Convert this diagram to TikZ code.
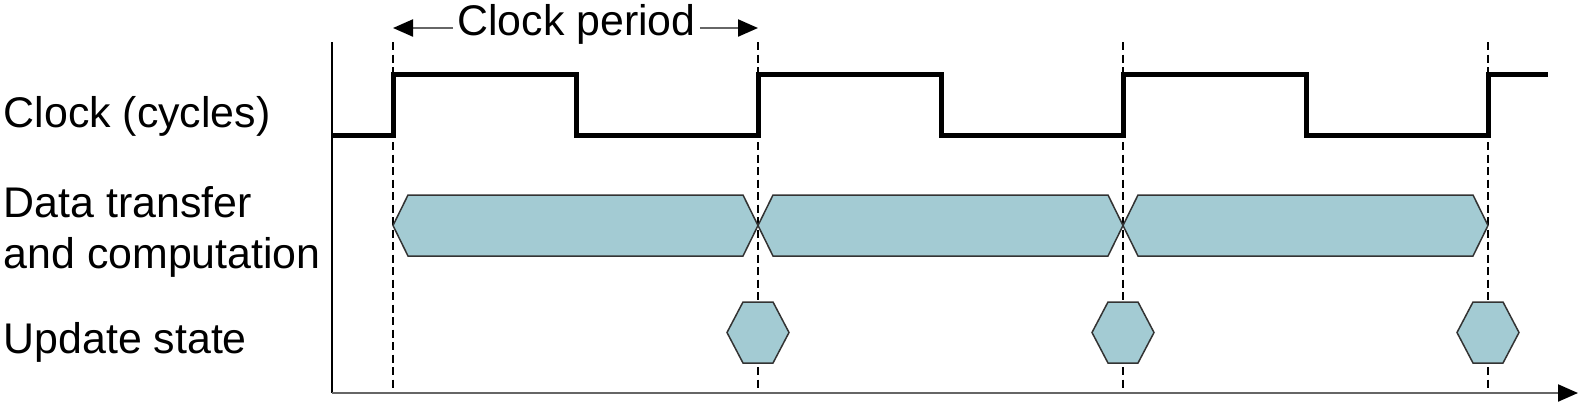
\documentclass[tikz,border=0pt]{standalone}
\usepackage{fontspec}
\setmainfont{Liberation Sans}
\usetikzlibrary{arrows.meta}
\definecolor{stateblue}{RGB}{163,203,211}

\tikzset{
	label/.style={inner sep=0pt, anchor=base west, font=\fontsize{12.2pt}{14pt}\selectfont},
	clockline/.style={line width=0.5mm, line join=miter},
	edgeline/.style={line width=0.18mm, dash pattern=on 0.8mm off 0.45mm},
	hexbox/.style={fill=stateblue, draw=black!80, line width=0.15mm, line join=miter},
	gauge/.style={line width=0.22mm, draw=black!60, -{Triangle[length=2mm, width=1.7mm, color=black]}}
}

\begin{document}
\begin{tikzpicture}[x=0.1mm, y=-0.1mm]
	\useasboundingbox (0, 0) rectangle (1580, 406);

	\node[label] (clk)  at (3, 127) {Clock (cycles)};
	\node[label] (data) at (3, 217) {Data transfer};
	\node[label] (comp) at (3, 268) {and computation};
	\node[label] (upd)  at (3, 353) {Update state};

	\coordinate (origin) at (332, 393);
	\coordinate (top)    at (332, 42);
	\coordinate (tend)   at (1578, 393);

	\foreach \x [count=\i] in {393, 758, 1123, 1488} {
		\coordinate (e\i) at (\x, 42);
		\draw[edgeline] (e\i) -- (\x, 390);
	}

	\draw[line width=0.12mm] (top) -- (origin);
	\draw[gauge] (origin) -- (tend);

	\draw[clockline]
		(332, 135) -- (393, 135) -- (393, 74) -- (576, 74) -- (576, 135)
		-- (758, 135) -- (758, 74) -- (941, 74) -- (941, 135)
		-- (1123, 135) -- (1123, 74) -- (1306, 74) -- (1306, 135)
		-- (1488, 135) -- (1488, 74) -- (1548, 74);

	\foreach \x in {393, 758, 1123} {
		\draw[hexbox] (\x, 225.5) -- (\x+15, 195) -- (\x+350, 195)
			-- (\x+365, 225.5) -- (\x+350, 256) -- (\x+15, 256) -- cycle;
	}
	\foreach \x in {758, 1123, 1488} {
		\draw[hexbox] (\x-31, 332.5) -- (\x-15, 302) -- (\x+15, 302)
			-- (\x+31, 332.5) -- (\x+15, 363) -- (\x-15, 363) -- cycle;
	}

	\node[label, anchor=base, inner xsep=1pt] (period) at (576.5, 35) {Clock period};
	\coordinate (pl) at (393, 28);
	\coordinate (pr) at (758, 28);
	\draw[gauge] (period.west |- pl) -- (pl);
	\draw[gauge] (period.east |- pr) -- (pr);
\end{tikzpicture}
\end{document}
